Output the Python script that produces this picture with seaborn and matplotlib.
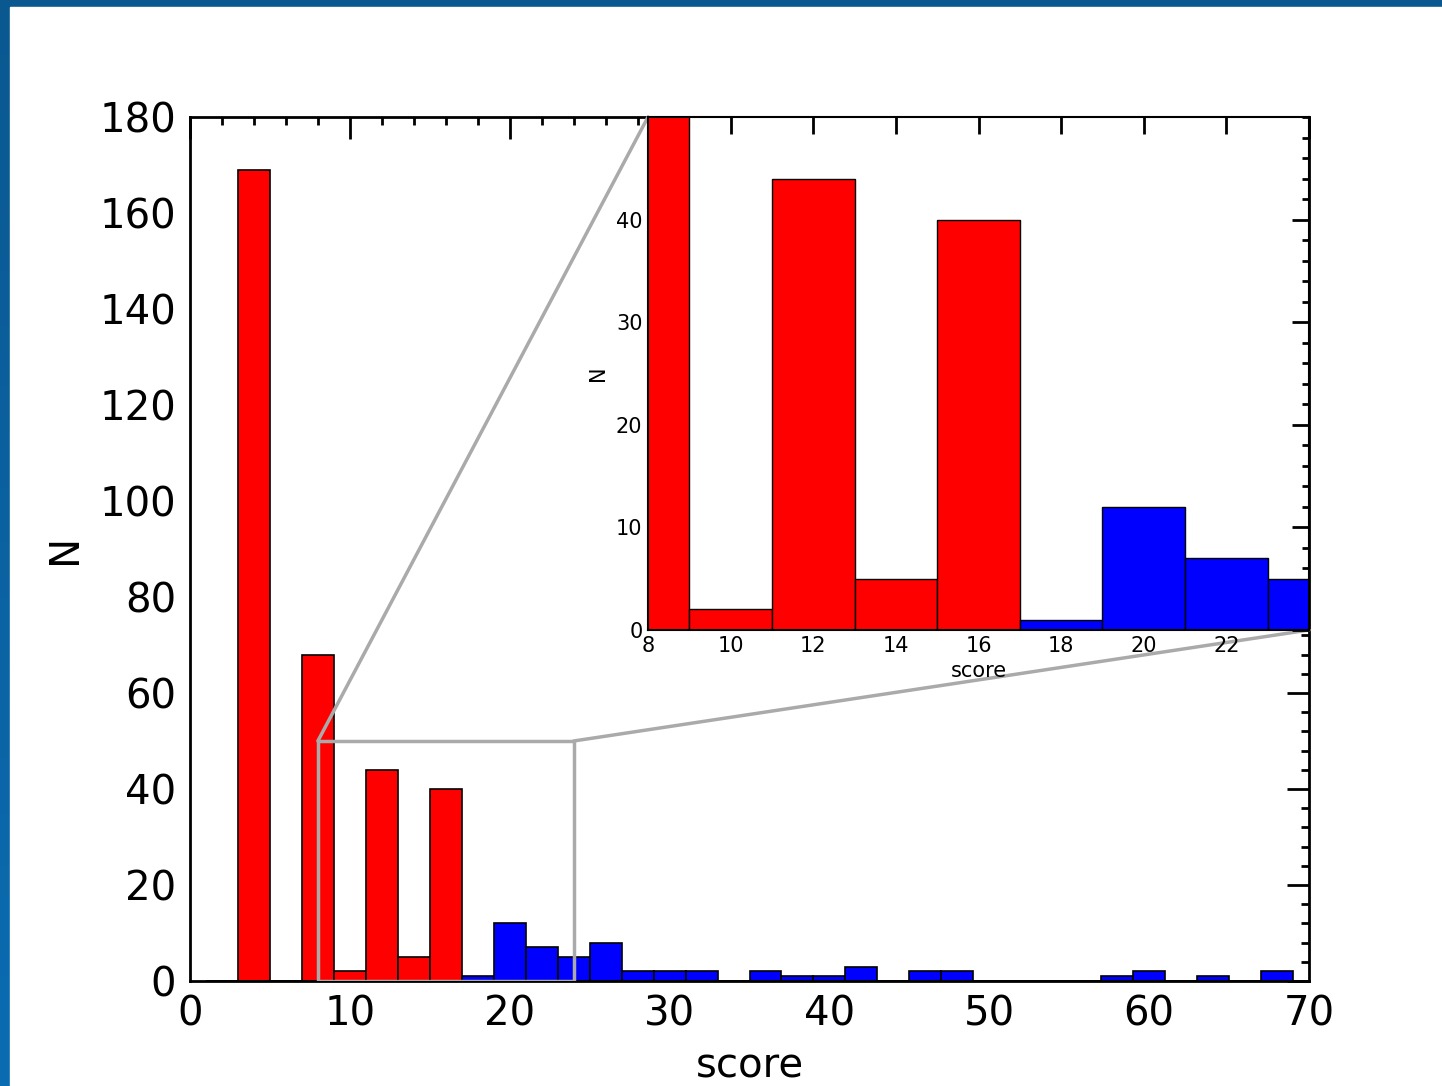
import numpy as np
import pandas as pd
import seaborn as sns
import matplotlib.pyplot as plt
from matplotlib.patches import Rectangle, ConnectionPatch
from matplotlib.ticker import MultipleLocator

# histogram bins (width 2, starting at 1)
bin_edges = list(range(1, 71, 2))
red_centers = [4, 8, 10, 12, 14, 16]
red_counts = [169, 68, 2, 44, 5, 40]
blue_centers = [18, 20, 22, 24, 26, 28, 30, 32, 36, 38, 40, 42, 46, 48, 58, 60, 64, 68]
blue_counts = [1, 12, 7, 5, 8, 2, 2, 2, 2, 1, 1, 3, 2, 2, 1, 2, 1, 2]

red_df = pd.DataFrame({'score': red_centers, 'N': red_counts})
blue_df = pd.DataFrame({'score': blue_centers, 'N': blue_counts})

sns.set_style("white")
plt.rcParams['font.family'] = ['DejaVu Sans']
plt.rcParams['text.color'] = 'black'
plt.rcParams['axes.labelcolor'] = 'black'

fig = plt.figure(figsize=(14.42, 10.86), dpi=100)

# blue frame around the slide
bg = fig.add_axes([0, 0, 1, 1], zorder=-10)
grad = np.linspace(0, 1, 256).reshape(-1, 1)
bg.imshow(grad, aspect='auto', extent=[0, 1, 0, 1],
          cmap=plt.matplotlib.colors.LinearSegmentedColormap.from_list('b', ['#0b5890', '#0a6cb2']))
bg.add_patch(Rectangle((10 / 1442, 0), 1, 1 - 7 / 1086, color='white'))
bg.set_xlim(0, 1)
bg.set_ylim(0, 1)
bg.axis('off')


def draw_hist(ax, lw):
    sns.histplot(data=red_df, x='score', weights='N', bins=bin_edges, color='#ff0000',
                 edgecolor='black', linewidth=lw, alpha=1, ax=ax)
    sns.histplot(data=blue_df, x='score', weights='N', bins=bin_edges, color='#0000ff',
                 edgecolor='black', linewidth=lw, alpha=1, ax=ax)


ax = fig.add_axes([190 / 1442, 105 / 1086, 1119 / 1442, 864 / 1086])
draw_hist(ax, 1.2)
ax.set_xlim(0, 70)
ax.set_ylim(0, 180)
ax.xaxis.set_major_locator(MultipleLocator(10))
ax.xaxis.set_minor_locator(MultipleLocator(2))
ax.yaxis.set_major_locator(MultipleLocator(20))
ax.yaxis.set_minor_locator(MultipleLocator(4))
ax.tick_params(which='both', direction='in', top=True, right=True, width=2, colors='black')
ax.tick_params(which='major', length=16, labelsize=29, pad=10)
ax.tick_params(which='minor', length=6)
ax.set_xlabel('score', fontsize=29, labelpad=8)
ax.set_ylabel('N', fontsize=29, labelpad=10)
for s in ax.spines.values():
    s.set_linewidth(2)
    s.set_color('black')

# zoom rectangle and connectors
ax.add_patch(Rectangle((8, 0), 16, 50, fill=False, edgecolor='#aaaaaa', linewidth=2.5, zorder=5))

axin = fig.add_axes([648 / 1442, 456 / 1086, 661 / 1442, 513 / 1086], zorder=3)
draw_hist(axin, 1.0)
axin.set_xlim(8, 24)
axin.set_ylim(0, 50)
axin.xaxis.set_major_locator(MultipleLocator(2))
axin.yaxis.set_major_locator(MultipleLocator(10))
axin.yaxis.set_minor_locator(MultipleLocator(2))
axin.tick_params(which='both', direction='in', top=True, right=True, width=2, colors='black')
axin.tick_params(which='major', length=12, labelsize=15, pad=4)
axin.tick_params(which='minor', length=5)
axin.set_yticks([0, 10, 20, 30, 40])
axin.set_xticks([8, 10, 12, 14, 16, 18, 20, 22])
axin.set_xlabel('score', fontsize=15, labelpad=4)
axin.set_ylabel('N', fontsize=15, labelpad=6)
for s in axin.spines.values():
    s.set_linewidth(1.5)
    s.set_color('black')

for xy_main, xy_in in [((8, 50), (0, 1)), ((24, 50), (1, 0))]:
    con = ConnectionPatch(xyA=xy_main, coordsA=ax.transData, xyB=xy_in, coordsB=axin.transAxes,
                          color='#aaaaaa', linewidth=2.5, zorder=2)
    fig.add_artist(con)

fig.savefig('out.png', dpi=100)
